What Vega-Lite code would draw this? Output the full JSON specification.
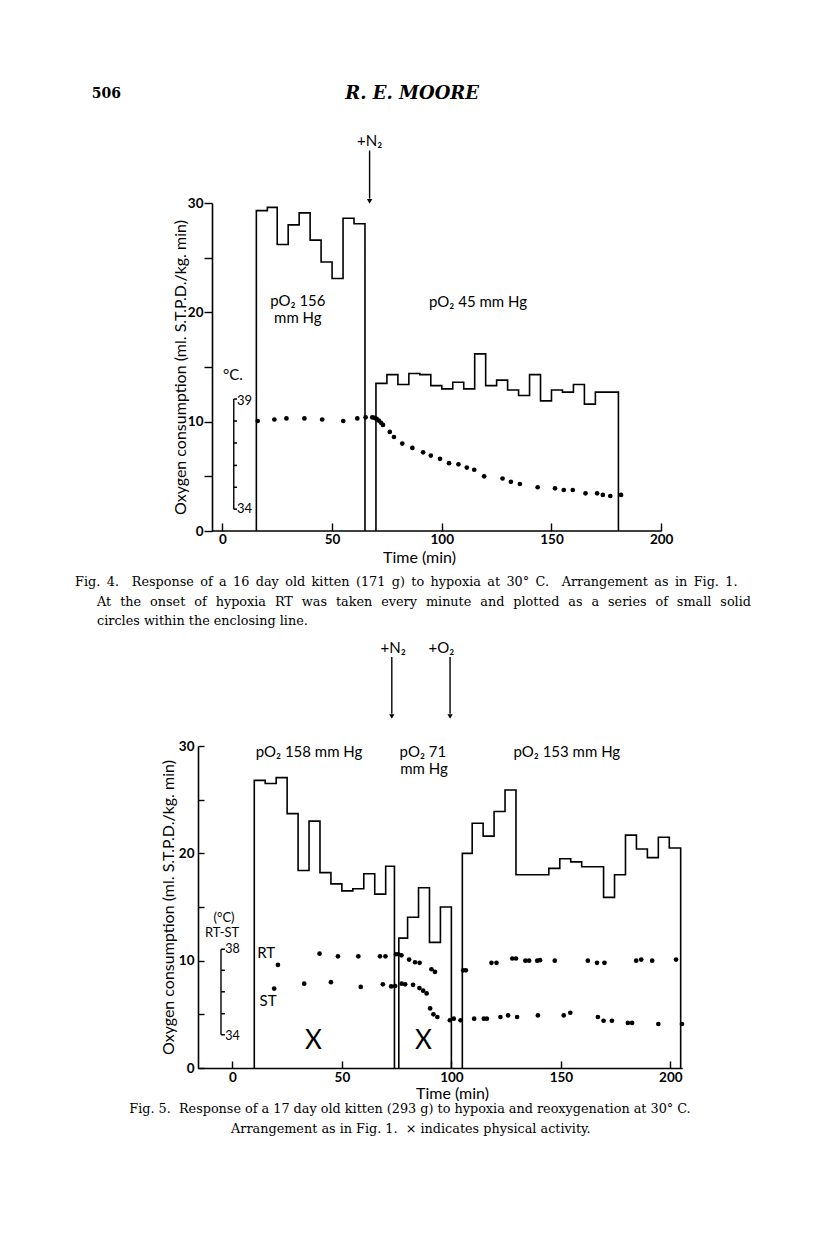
{
  "$schema": "https://vega.github.io/schema/vega-lite/v6.json",
  "background": "white",
  "padding": {"left": 75, "top": 84, "right": 0, "bottom": 0},
  "bounds": "flush",
  "spacing": 215,
  "config": {
    "view": {"stroke": null},
    "axis": {"grid": false, "labelFlush": false, "domainColor": "black", "tickColor": "black", "labelColor": "black", "titleColor": "black", "domainWidth": 1.6, "tickWidth": 1.4, "labelFont": "Lato", "labelFontWeight": "bold", "labelFontSize": 13.5, "titleFont": "Lato", "titleFontWeight": "normal", "titleFontSize": 16}
  },
  "vconcat": [
    {
      "width": 463.2,
      "height": 328,
      "encoding": {
        "x": {"field": "x", "type": "quantitative", "scale": {"domain": [-11.1, 200], "nice": false, "zero": false},
          "axis": {"values": [0, 50, 100, 150, 200], "domain": false, "tickSize": -8, "labelPadding": 9, "title": "Time (min)", "titleX": 221, "titleY": 26, "titleBaseline": "middle"}},
        "y": {"field": "y", "type": "quantitative", "scale": {"domain": [0, 30], "nice": false, "zero": false},
          "axis": {"values": [0, 5, 10, 15, 20, 25, 30], "labelExpr": "datum.value % 10 === 0 ? datum.label : ''", "offset": -14, "tickSize": 8, "labelPadding": 1, "title": "Oxygen consumption (ml. S.T.P.D./kg. min)", "titleX": -32, "titleBaseline": "middle"}}
      },
      "layer": [
        {
          "data": {"values": [
            {"block": "a", "x": 15.5, "y": 0}, {"block": "a", "x": 15.5, "y": 29.3}, {"block": "a", "x": 20.5, "y": 29.6}, {"block": "a", "x": 25, "y": 26.2}, {"block": "a", "x": 30, "y": 28.0}, {"block": "a", "x": 35, "y": 29.1}, {"block": "a", "x": 40, "y": 26.6}, {"block": "a", "x": 45, "y": 24.6}, {"block": "a", "x": 50, "y": 23.1}, {"block": "a", "x": 55, "y": 28.6}, {"block": "a", "x": 60, "y": 28.1}, {"block": "a", "x": 65, "y": 0},
            {"block": "b", "x": 70, "y": 0}, {"block": "b", "x": 70, "y": 13.5}, {"block": "b", "x": 75, "y": 14.3}, {"block": "b", "x": 80, "y": 13.4}, {"block": "b", "x": 85, "y": 14.4}, {"block": "b", "x": 90, "y": 14.3}, {"block": "b", "x": 95, "y": 13.3}, {"block": "b", "x": 100, "y": 13.0}, {"block": "b", "x": 105, "y": 13.6}, {"block": "b", "x": 110, "y": 13.0}, {"block": "b", "x": 115, "y": 16.2}, {"block": "b", "x": 120, "y": 13.3}, {"block": "b", "x": 125, "y": 13.8}, {"block": "b", "x": 130, "y": 12.9}, {"block": "b", "x": 135, "y": 12.4}, {"block": "b", "x": 140, "y": 14.3}, {"block": "b", "x": 145, "y": 11.9}, {"block": "b", "x": 150, "y": 12.9}, {"block": "b", "x": 155, "y": 12.7}, {"block": "b", "x": 160, "y": 13.4}, {"block": "b", "x": 165, "y": 11.6}, {"block": "b", "x": 170, "y": 12.7}, {"block": "b", "x": 180.5, "y": 0}
          ]},
          "mark": {"type": "line", "interpolate": "step-after", "color": "black", "strokeWidth": 1.6},
          "encoding": {"detail": {"field": "block"}, "order": {"value": null}}
        },
        {
          "data": {"values": [
            {"x": 16.1, "y": 10.06}, {"x": 23.7, "y": 10.2}, {"x": 29.2, "y": 10.3}, {"x": 37.4, "y": 10.3}, {"x": 45.5, "y": 10.2}, {"x": 55.1, "y": 10.06}, {"x": 61.5, "y": 10.3}, {"x": 65.3, "y": 10.4}, {"x": 68.3, "y": 10.4}, {"x": 69.3, "y": 10.35}, {"x": 70.3, "y": 10.25}, {"x": 71.3, "y": 10.1}, {"x": 72.3, "y": 9.9}, {"x": 73.2, "y": 9.7},
            {"x": 76.3, "y": 9.06}, {"x": 78.2, "y": 8.6}, {"x": 82.0, "y": 8.0}, {"x": 86.6, "y": 7.6}, {"x": 91.5, "y": 7.2}, {"x": 95.0, "y": 6.9}, {"x": 99.2, "y": 6.6}, {"x": 103.3, "y": 6.2}, {"x": 107.6, "y": 6.1}, {"x": 111.4, "y": 5.8}, {"x": 114.8, "y": 5.6}, {"x": 119.3, "y": 5.0}, {"x": 127.7, "y": 4.8}, {"x": 131.5, "y": 4.5}, {"x": 135.6, "y": 4.3}, {"x": 143.7, "y": 4.0}, {"x": 151.6, "y": 3.9}, {"x": 155.6, "y": 3.75}, {"x": 159.7, "y": 3.75}, {"x": 165.5, "y": 3.45}, {"x": 170.8, "y": 3.45}, {"x": 173.4, "y": 3.3}, {"x": 176.8, "y": 3.2}, {"x": 181.7, "y": 3.3}
          ]},
          "mark": {"type": "circle", "color": "black", "size": 22, "opacity": 1}
        },
        {
          "data": {"values": [{"x": 5.2, "y": 2, "y2": 12.07}, {"x": 67.1, "y": 34.8, "y2": 30.4}]},
          "mark": {"type": "rule", "color": "black", "strokeWidth": 1.4},
          "encoding": {"y2": {"field": "y2"}}
        },
        {
          "data": {"values": [
            {"x": 5.2, "x2": 6.7, "y": 12.07}, {"x": 5.2, "x2": 6.7, "y": 10.06}, {"x": 5.2, "x2": 6.7, "y": 8.05}, {"x": 5.2, "x2": 6.7, "y": 6.0}, {"x": 5.2, "x2": 6.7, "y": 4.0}, {"x": 5.2, "x2": 6.7, "y": 2.0},
            {"x": -4.7, "x2": 200, "y": 0}
          ]},
          "mark": {"type": "rule", "color": "black", "strokeWidth": 1.5},
          "encoding": {"x2": {"field": "x2"}}
        },
        {
          "data": {"values": [{"x": 67.1, "y": 30.15}]},
          "mark": {"type": "point", "shape": "triangle-down", "filled": true, "color": "black", "size": 28, "opacity": 1}
        },
        {
          "data": {"values": [
            {"x": 34.4, "y": 21.0, "t": "pO₂ 156"}, {"x": 34.4, "y": 19.5, "t": "mm Hg"}, {"x": 116.5, "y": 20.9, "t": "pO₂ 45 mm Hg"}, {"x": 67.1, "y": 35.7, "t": "+N₂"}
          ]},
          "mark": {"type": "text", "font": "Lato", "fontSize": 15, "align": "center", "baseline": "middle", "color": "black"},
          "encoding": {"text": {"field": "t"}}
        },
        {
          "data": {"values": [{"x": 0.3, "y": 14.3, "t": "°C."}]},
          "mark": {"type": "text", "font": "Lato", "fontSize": 15, "align": "left", "baseline": "middle", "color": "black"},
          "encoding": {"text": {"field": "t"}}
        },
        {
          "data": {"values": [{"x": 6.7, "y": 11.9, "t": "39"}, {"x": 6.7, "y": 2.0, "t": "34"}]},
          "mark": {"type": "text", "font": "Lato", "fontSize": 13, "align": "left", "baseline": "middle", "color": "black"},
          "encoding": {"text": {"field": "t"}}
        },
        {
          "data": {"values": [{"x": -59.5, "y": 40.0, "t": "506"}]},
          "mark": {"type": "text", "font": "DejaVu Serif", "fontWeight": "bold", "fontSize": 14, "align": "left", "baseline": "middle", "color": "black"},
          "encoding": {"text": {"field": "t"}}
        },
        {
          "data": {"values": [{"x": 86.5, "y": 40.0, "t": "R. E. MOORE"}]},
          "mark": {"type": "text", "font": "DejaVu Serif", "fontWeight": "bold", "fontStyle": "italic", "fontSize": 18, "align": "center", "baseline": "middle", "color": "black"},
          "encoding": {"text": {"field": "t"}}
        },
        {
          "data": {"values": [
            {"x": -67.1, "y": -4.67, "t": "Fig.\u20024.\u2002\u2002Response\u2002of\u2002a\u200216\u2002day\u2002old\u2002kitten\u2002(171\u2002g)\u2002to\u2002hypoxia\u2002at\u200230°\u2002C.\u2002\u2002Arrangement\u2002as\u2002in\u2002Fig.\u20021."},
            {"x": -57.1, "y": -6.5, "t": "At\u2002\u2009the\u2002\u2009onset\u2002\u2009of\u2002\u2009hypoxia\u2002\u2009RT\u2002\u2009was\u2002\u2009taken\u2002\u2009every\u2002\u2009minute\u2002\u2009and\u2002\u2009plotted\u2002\u2009as\u2002\u2009a\u2002\u2009series\u2002\u2009of\u2002\u2009small\u2002\u2009solid"},
            {"x": -57.1, "y": -8.23, "t": "circles within the enclosing line."}
          ]},
          "mark": {"type": "text", "font": "DejaVu Serif", "fontSize": 12.8, "align": "left", "baseline": "middle", "color": "black"},
          "encoding": {"text": {"field": "t"}}
        }
      ]
    },
    {
      "width": 484.2,
      "height": 322,
      "encoding": {
        "x": {"field": "x", "type": "quantitative", "scale": {"domain": [-15.7, 205.4], "nice": false, "zero": false},
          "axis": {"values": [0, 50, 100, 150, 200], "tickSize": -7, "labelPadding": 9, "title": "Time (min)", "titleX": 254, "titleY": 25, "titleBaseline": "middle"}},
        "y": {"field": "y", "type": "quantitative", "scale": {"domain": [0, 30], "nice": false, "zero": false},
          "axis": {"values": [0, 5, 10, 15, 20, 25, 30], "labelExpr": "datum.value % 10 === 0 ? datum.label : ''", "tickSize": -6, "labelPadding": 10, "title": "Oxygen consumption (ml. S.T.P.D./kg. min)", "titleX": -30, "titleBaseline": "middle"}}
      },
      "layer": [
        {
          "data": {"values": [
            {"block": "a", "x": 10, "y": 0}, {"block": "a", "x": 10, "y": 26.8}, {"block": "a", "x": 15, "y": 26.5}, {"block": "a", "x": 20, "y": 27.05}, {"block": "a", "x": 25, "y": 23.7}, {"block": "a", "x": 30, "y": 18.4}, {"block": "a", "x": 35, "y": 23.0}, {"block": "a", "x": 40, "y": 18.2}, {"block": "a", "x": 45, "y": 17.15}, {"block": "a", "x": 50, "y": 16.5}, {"block": "a", "x": 55, "y": 16.7}, {"block": "a", "x": 60, "y": 18.1}, {"block": "a", "x": 65, "y": 16.2}, {"block": "a", "x": 70, "y": 18.8}, {"block": "a", "x": 74, "y": 0},
            {"block": "b", "x": 76, "y": 0}, {"block": "b", "x": 76, "y": 12.1}, {"block": "b", "x": 80, "y": 14.05}, {"block": "b", "x": 85, "y": 16.8}, {"block": "b", "x": 90, "y": 11.7}, {"block": "b", "x": 95, "y": 15.0}, {"block": "b", "x": 100, "y": 0},
            {"block": "c", "x": 105, "y": 0}, {"block": "c", "x": 105, "y": 20.0}, {"block": "c", "x": 109.5, "y": 22.8}, {"block": "c", "x": 114.5, "y": 21.6}, {"block": "c", "x": 119.5, "y": 23.9}, {"block": "c", "x": 124.5, "y": 25.9}, {"block": "c", "x": 129.5, "y": 18.0}, {"block": "c", "x": 144.5, "y": 18.6}, {"block": "c", "x": 149.5, "y": 19.5}, {"block": "c", "x": 154.5, "y": 19.2}, {"block": "c", "x": 159.5, "y": 18.75}, {"block": "c", "x": 169.5, "y": 15.9}, {"block": "c", "x": 174.5, "y": 18.0}, {"block": "c", "x": 179.5, "y": 21.7}, {"block": "c", "x": 184.5, "y": 20.4}, {"block": "c", "x": 189.5, "y": 19.6}, {"block": "c", "x": 194.5, "y": 21.5}, {"block": "c", "x": 199.5, "y": 20.5}, {"block": "c", "x": 204.7, "y": 0}
          ]},
          "mark": {"type": "line", "interpolate": "step-after", "color": "black", "strokeWidth": 1.6},
          "encoding": {"detail": {"field": "block"}, "order": {"value": null}}
        },
        {
          "data": {"values": [
            {"s": "RT", "x": 20.8, "y": 9.6}, {"s": "RT", "x": 39.8, "y": 10.65}, {"s": "RT", "x": 48.2, "y": 10.4}, {"s": "RT", "x": 57.5, "y": 10.4}, {"s": "RT", "x": 67.4, "y": 10.4}, {"s": "RT", "x": 69.9, "y": 10.4}, {"s": "RT", "x": 74.7, "y": 10.6}, {"s": "RT", "x": 75.8, "y": 10.6}, {"s": "RT", "x": 77.2, "y": 10.5}, {"s": "RT", "x": 80.7, "y": 10.1}, {"s": "RT", "x": 83.4, "y": 9.85}, {"s": "RT", "x": 85.5, "y": 9.8}, {"s": "RT", "x": 90.9, "y": 9.2}, {"s": "RT", "x": 92.5, "y": 8.95},
            {"s": "RT", "x": 105.4, "y": 9.1}, {"s": "RT", "x": 106.6, "y": 9.1}, {"s": "RT", "x": 118.3, "y": 9.8}, {"s": "RT", "x": 120.6, "y": 9.8}, {"s": "RT", "x": 127.8, "y": 10.2}, {"s": "RT", "x": 129.5, "y": 10.2}, {"s": "RT", "x": 133.8, "y": 10.0}, {"s": "RT", "x": 135.5, "y": 10.0}, {"s": "RT", "x": 139.2, "y": 10.0}, {"s": "RT", "x": 140.5, "y": 10.05}, {"s": "RT", "x": 147.2, "y": 10.0}, {"s": "RT", "x": 162.3, "y": 10.0}, {"s": "RT", "x": 166.5, "y": 9.8}, {"s": "RT", "x": 169.9, "y": 9.8}, {"s": "RT", "x": 184.4, "y": 10.0}, {"s": "RT", "x": 186.7, "y": 10.1}, {"s": "RT", "x": 191.7, "y": 10.0}, {"s": "RT", "x": 202.6, "y": 10.1},
            {"s": "ST", "x": 19.1, "y": 7.4}, {"s": "ST", "x": 32.8, "y": 7.86}, {"s": "ST", "x": 45.0, "y": 8.0}, {"s": "ST", "x": 58.6, "y": 7.55}, {"s": "ST", "x": 68.7, "y": 7.8}, {"s": "ST", "x": 72.5, "y": 7.6}, {"s": "ST", "x": 74.3, "y": 7.64}, {"s": "ST", "x": 77.3, "y": 7.86}, {"s": "ST", "x": 78.9, "y": 7.8}, {"s": "ST", "x": 82.5, "y": 7.75}, {"s": "ST", "x": 85.4, "y": 7.45}, {"s": "ST", "x": 87.1, "y": 7.2}, {"s": "ST", "x": 88.7, "y": 6.95}, {"s": "ST", "x": 90.3, "y": 5.55}, {"s": "ST", "x": 91.8, "y": 5.0}, {"s": "ST", "x": 93.6, "y": 4.75},
            {"s": "ST", "x": 99.3, "y": 4.45}, {"s": "ST", "x": 101.1, "y": 4.6}, {"s": "ST", "x": 104.2, "y": 4.45}, {"s": "ST", "x": 110.4, "y": 4.6}, {"s": "ST", "x": 114.8, "y": 4.6}, {"s": "ST", "x": 116.2, "y": 4.6}, {"s": "ST", "x": 122.4, "y": 4.75}, {"s": "ST", "x": 125.9, "y": 4.9}, {"s": "ST", "x": 130.0, "y": 4.75}, {"s": "ST", "x": 139.5, "y": 4.9}, {"s": "ST", "x": 151.3, "y": 4.9}, {"s": "ST", "x": 154.3, "y": 5.15}, {"s": "ST", "x": 166.9, "y": 4.75}, {"s": "ST", "x": 169.5, "y": 4.4}, {"s": "ST", "x": 173.3, "y": 4.4}, {"s": "ST", "x": 180.6, "y": 4.2}, {"s": "ST", "x": 182.5, "y": 4.2}, {"s": "ST", "x": 194.5, "y": 4.1}, {"s": "ST", "x": 205.3, "y": 4.1}
          ]},
          "mark": {"type": "circle", "color": "black", "size": 22, "opacity": 1}
        },
        {
          "data": {"values": [{"x": -5.2, "y": 3.1, "y2": 11.06}, {"x": 72.8, "y": 38.3, "y2": 33.0}, {"x": 99.4, "y": 38.3, "y2": 33.0}]},
          "mark": {"type": "rule", "color": "black", "strokeWidth": 1.4},
          "encoding": {"y2": {"field": "y2"}}
        },
        {
          "data": {"values": [
            {"x": -5.2, "x2": -3.4, "y": 11.06}, {"x": -5.2, "x2": -3.4, "y": 9.1}, {"x": -5.2, "x2": -3.4, "y": 7.1}, {"x": -5.2, "x2": -3.4, "y": 5.06}, {"x": -5.2, "x2": -3.4, "y": 3.1}
          ]},
          "mark": {"type": "rule", "color": "black", "strokeWidth": 1.5},
          "encoding": {"x2": {"field": "x2"}}
        },
        {
          "data": {"values": [{"x": 72.8, "y": 32.75}, {"x": 99.4, "y": 32.75}]},
          "mark": {"type": "point", "shape": "triangle-down", "filled": true, "color": "black", "size": 28, "opacity": 1}
        },
        {
          "data": {"values": [
            {"x": 35.0, "y": 29.4, "t": "pO₂ 158 mm Hg"}, {"x": 87.0, "y": 29.4, "t": "pO₂ 71"}, {"x": 87.5, "y": 27.9, "t": "mm Hg"}, {"x": 152.7, "y": 29.4, "t": "pO₂ 153 mm Hg"},
            {"x": 73.4, "y": 39.1, "t": "+N₂"}, {"x": 95.4, "y": 39.1, "t": "+O₂"},
            {"x": 15.4, "y": 10.7, "t": "RT"}, {"x": 16.3, "y": 6.2, "t": "ST"}
          ]},
          "mark": {"type": "text", "font": "Lato", "fontSize": 15, "align": "center", "baseline": "middle", "color": "black"},
          "encoding": {"text": {"field": "t"}}
        },
        {
          "data": {"values": [{"x": -3.8, "y": 14.0, "t": "(°C)"}, {"x": -4.7, "y": 12.6, "t": "RT-ST"}]},
          "mark": {"type": "text", "font": "Lato", "fontSize": 13, "align": "center", "baseline": "middle", "color": "black"},
          "encoding": {"text": {"field": "t"}}
        },
        {
          "data": {"values": [{"x": -3.3, "y": 11.1, "t": "38"}, {"x": -3.3, "y": 3.0, "t": "34"}]},
          "mark": {"type": "text", "font": "Lato", "fontSize": 12.5, "align": "left", "baseline": "middle", "color": "black"},
          "encoding": {"text": {"field": "t"}}
        },
        {
          "data": {"values": [{"x": 37.0, "y": 2.5, "t": "X"}, {"x": 87.2, "y": 2.5, "t": "X"}]},
          "mark": {"type": "text", "font": "Lato", "fontSize": 26, "align": "center", "baseline": "middle", "color": "black"},
          "encoding": {"text": {"field": "t"}}
        },
        {
          "data": {"values": [
            {"x": 81.1, "y": -3.82, "t": "Fig. 5.\u00a0 Response of a 17 day old kitten (293 g) to hypoxia and reoxygenation at 30° C."},
            {"x": 81.5, "y": -5.68, "t": "Arrangement as in Fig. 1.\u00a0 × indicates physical activity."}
          ]},
          "mark": {"type": "text", "font": "DejaVu Serif", "fontSize": 12.8, "align": "center", "baseline": "middle", "color": "black"},
          "encoding": {"text": {"field": "t"}}
        }
      ]
    }
  ]
}
